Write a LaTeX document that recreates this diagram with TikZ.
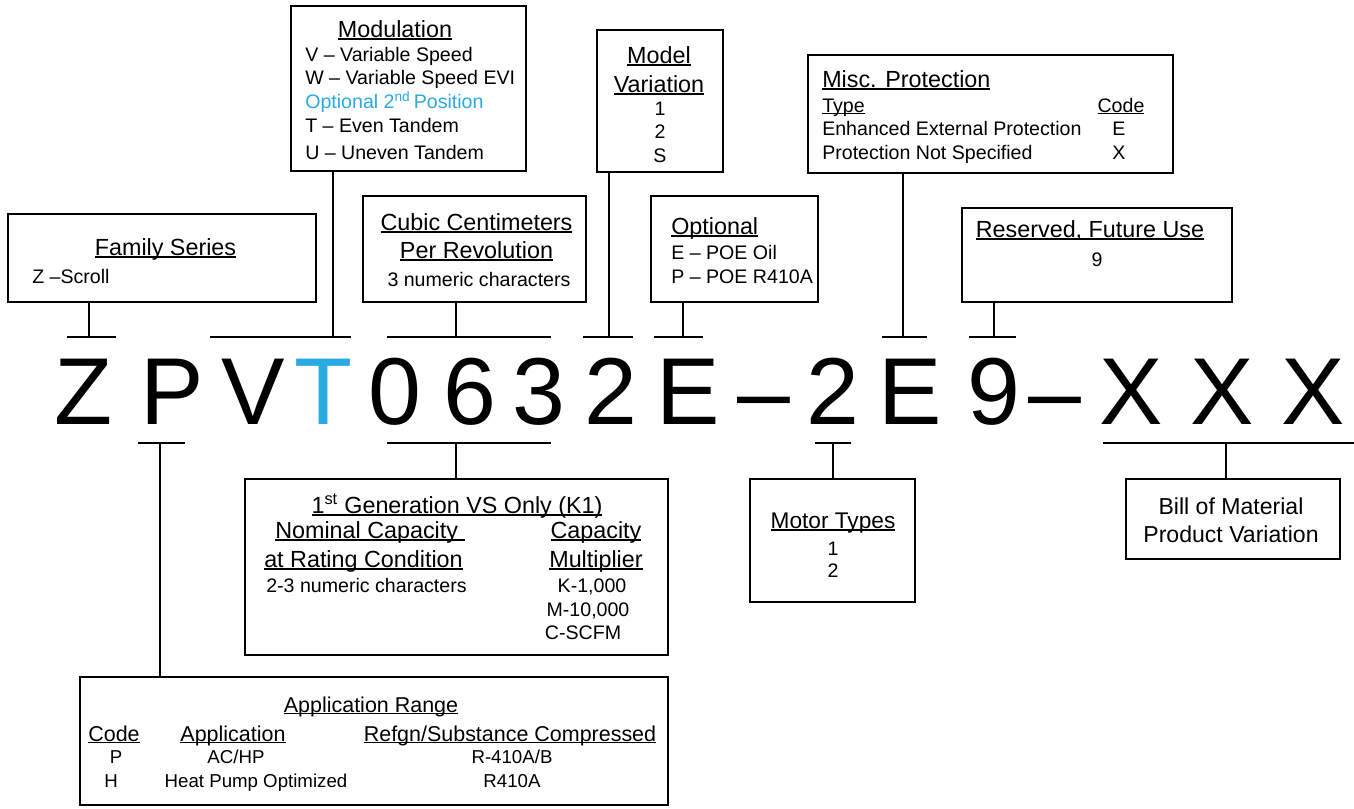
\documentclass[tikz,border=0pt]{standalone}
\usepackage{fontspec}
\setmainfont{Liberation Sans}
\usetikzlibrary{fit}
\definecolor{cyanx}{RGB}{41,171,226}
\newsavebox\ulbox
\newcommand{\ulx}[1]{\sbox\ulbox{#1}\rlap{\rule[-0.11em]{\wd\ulbox}{0.065em}}\usebox\ulbox}
\newcommand{\fbody}{\fontsize{14.7}{17}\selectfont}
\newcommand{\ftitle}{\fontsize{17.5}{20}\selectfont}
\newcommand{\fmot}{\fontsize{17}{20}\selectfont}
\newcommand{\fbom}{\fontsize{17.3}{20}\selectfont}
\newcommand{\fapt}{\fontsize{16.1}{19}\selectfont}
\newcommand{\fapb}{\fontsize{14}{16}\selectfont}
\newcommand{\fbig}{\fontsize{71.3}{80}\selectfont}
\newcommand{\brkt}[6]{%
  \coordinate (#1L) at (#2,#5); \coordinate (#1R) at (#3,#5); \coordinate (#1M) at (#4,#5);
  \draw[conn] (#1L) -- (#1R);
  \draw[conn] (#1M) -- (#1M |- #6);}
\begin{document}
\begin{tikzpicture}[x=0.75pt,y=-0.75pt,
  boxs/.style={draw, line width=1.5pt, inner sep=0pt},
  conn/.style={line width=1.1pt},
  tw/.style={inner sep=0pt, anchor=base west},
  tc/.style={inner sep=0pt, anchor=base},
  big/.style={inner sep=0pt, anchor=base, font=\fbig}]
\useasboundingbox (0,0) rectangle (1354,808);

% boxes
\node[boxs, fit={(8,214)(316,302)}] (fam) {};
\node[boxs, fit={(291,6)(526,171)}] (mod) {};
\node[boxs, fit={(363,196)(586,302)}] (cub) {};
\node[boxs, fit={(597,30)(723,172)}] (mv) {};
\node[boxs, fit={(651,196)(818,302)}] (opt) {};
\node[boxs, fit={(808,55)(1173,173)}] (misc) {};
\node[boxs, fit={(962,208)(1232,302)}] (res) {};
\node[boxs, fit={(245,479)(668,655)}] (gen) {};
\node[boxs, fit={(750,479)(915,602)}] (mot) {};
\node[boxs, fit={(1126,479)(1340,559)}] (bom) {};
\node[boxs, fit={(80,677)(668,805)}] (app) {};

% Family series
\node[tc, font=\ftitle] (famT) at (165.5,255) {\ulx{Family Series}};
\node[tw, font=\fbody] (fam1) at (32,283) {Z –Scroll};

% Modulation
\node[tc, font=\ftitle] (modT) at (395,37) {\ulx{Modulation}};
\node[tw, font=\fbody] (mod1) at (305,61) {V – Variable Speed};
\node[tw, font=\fbody] (mod2) at (305,84) {W – Variable Speed EVI};
\node[tw, font=\fbody, text=cyanx] (mod3) at (305,108) {Optional 2\textsuperscript{nd}\,Position};
\node[tw, font=\fbody] (mod4) at (305,132) {T – Even Tandem};
\node[tw, font=\fbody] (mod5) at (305,159) {U – Uneven Tandem};

% Cubic
\node[tc, font=\ftitle] (cubT1) at (476.5,230) {\ulx{Cubic Centimeters}};
\node[tc, font=\ftitle] (cubT2) at (476.5,258) {\ulx{Per Revolution}};
\node[tc, font=\fbody] (cub1) at (479,286) {3 numeric characters};

% Model variation
\node[tc, font=\ftitle] (mvT1) at (659,63) {\ulx{Model}};
\node[tc, font=\ftitle] (mvT2) at (659,92) {\ulx{Variation}};
\node[tc, font=\fbody] (mv1) at (660,115) {1};
\node[tc, font=\fbody] (mv2) at (660,138) {2};
\node[tc, font=\fbody] (mv3) at (660,162) {S};

% Optional
\node[tw, font=\ftitle] (optT) at (671,234) {\ulx{Optional}};
\node[tw, font=\fbody] (opt1) at (671,259) {E – POE Oil};
\node[tw, font=\fbody] (opt2) at (671,283) {P – POE R410A};

% Misc protection
\node[tw, font=\ftitle] (miscT) at (822,87) {\ulx{Misc. Protection}};
\node[tw, font=\fbody] (miscH1) at (822,112) {\ulx{Type}};
\node[tc, font=\fbody] (miscH2) at (1121,112) {\ulx{Code}};
\node[tw, font=\fbody] (misc1) at (822,135) {Enhanced External Protection};
\node[tc, font=\fbody] (misc1c) at (1119,135) {E};
\node[tw, font=\fbody] (misc2) at (822,159) {Protection Not Specified};
\node[tc, font=\fbody] (misc2c) at (1119,159) {X};

% Reserved
\node[tc, font=\ftitle] (resT) at (1090,237) {\ulx{Reserved, Future Use}};
\node[tc, font=\fbody] (res1) at (1097,266) {9};

% 1st generation
\node[tc, font=\ftitle] (genT) at (457,513) {\ulx{1\textsuperscript{st} Generation VS Only (K1)}};
\node[tw, font=\ftitle] (genA1) at (275,538) {\ulx{Nominal Capacity\ }};
\node[tw, font=\ftitle] (genA2) at (264,567) {\ulx{at Rating Condition}};
\node[tw, font=\fbody] (genA3) at (266,592) {2-3 numeric characters};
\node[tc, font=\ftitle] (genB1) at (596,538) {\ulx{Capacity}};
\node[tc, font=\ftitle] (genB2) at (596,567) {\ulx{Multiplier}};
\node[tc, font=\fbody] (genB3) at (592,592) {K-1,000};
\node[tc, font=\fbody] (genB4) at (588,616) {M-10,000};
\node[tc, font=\fbody] (genB5) at (583,639) {C-SCFM};

% Motor types
\node[tc, font=\fmot] (motT) at (833,528) {\ulx{Motor Types}};
\node[tc, font=\fbody] (mot1) at (833,555) {1};
\node[tc, font=\fbody] (mot2) at (833,577) {2};

% Bill of material
\node[tc, font=\fbom] (bom1) at (1231,514) {Bill of Material};
\node[tc, font=\fbom] (bom2) at (1231,542) {Product Variation};

% Application range
\node[tc, font=\fapt] (appT) at (371,712) {\ulx{Application Range}};
\node[tc, font=\fapt] (appH1) at (114,741) {\ulx{Code}};
\node[tc, font=\fapt] (appH2) at (233,741) {\ulx{Application}};
\node[tc, font=\fapt] (appH3) at (510,741) {\ulx{Refgn/Substance Compressed}};
\node[tc, font=\fapb] (appP1) at (116,763) {P};
\node[tc, font=\fapb] (appP2) at (236,763) {AC/HP};
\node[tc, font=\fapb] (appP3) at (512,763) {R-410A/B};
\node[tc, font=\fapb] (appH1r) at (111,787) {H};
\node[tc, font=\fapb] (appH2r) at (256,787) {Heat Pump Optimized};
\node[tc, font=\fapb] (appH3r) at (512,787) {R410A};

% model number
\node[big] (c1) at (84,424) {Z};
\node[big] (c2) at (172.5,424) {P};
\node[big] (c3) at (253.5,424) {V};
\node[big, text=cyanx] (c4) at (324,424) {T};
\node[big] (c5) at (395,424) {0};
\node[big] (c6) at (470,424) {6};
\node[big] (c7) at (539,424) {3};
\node[big] (c8) at (610.5,424) {2};
\node[big] (c9) at (688.5,424) {E};
\node[big] (c10) at (763.5,424) {–};
\node[big] (c11) at (833,424) {2};
\node[big] (c12) at (910,424) {E};
\node[big] (c13) at (993.5,424) {9};
\node[big] (c14) at (1055,424) {–};
\node[big] (c15) at (1131,424) {X};
\node[big] (c16) at (1222,424) {X};
\node[big] (c17) at (1313.5,424) {X};

% brackets and connectors
\brkt{bz}{67}{116}{89}{337}{fam.south}
\brkt{bmod}{210}{351}{333}{337}{mod.south}
\brkt{bcub}{387}{551}{456}{337}{cub.south}
\brkt{bmv}{583}{633}{609}{337}{mv.south}
\brkt{bopt}{654}{703}{683}{337}{opt.south}
\brkt{bmisc}{882}{927}{903}{337}{misc.south}
\brkt{bres}{969}{1016}{994}{337}{res.south}
\brkt{bapp}{138}{185}{160}{443}{app.north}
\brkt{bgen}{387}{551}{456}{443}{gen.north}
\brkt{bmot}{815}{851}{833}{443}{mot.north}
\brkt{bbom}{1103}{1354}{1226}{443}{bom.north}
\end{tikzpicture}
\end{document}
